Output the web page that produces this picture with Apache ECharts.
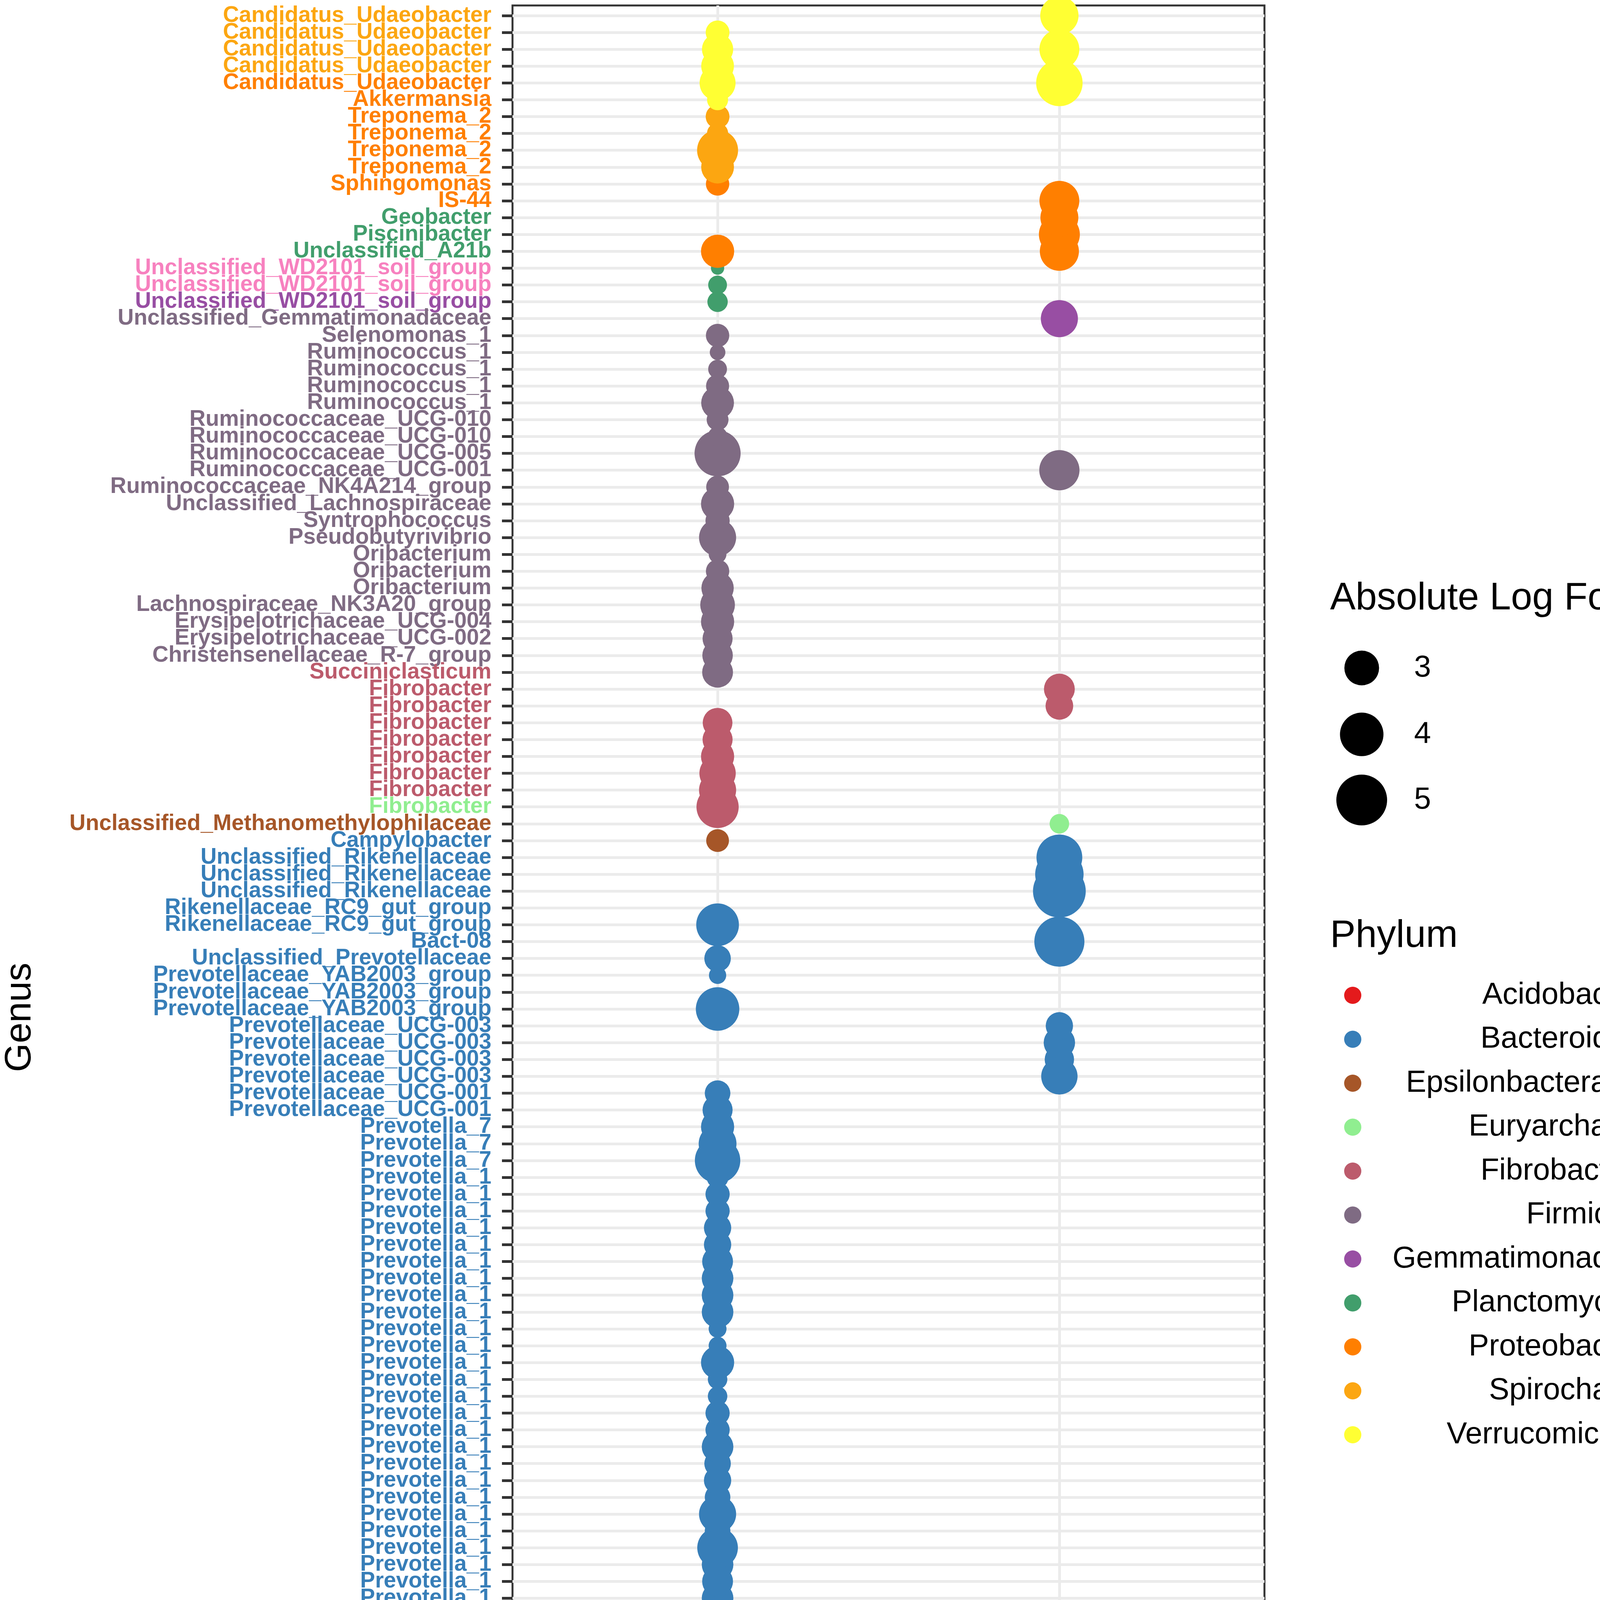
<!DOCTYPE html>
<html><head><meta charset="utf-8">
<script src="https://cdn.jsdelivr.net/npm/echarts@6/dist/echarts.min.js"></script>
<style>html,body{margin:0;padding:0;background:#fff}#c{width:4562px;height:5445px}</style>
</head><body><div id="c"></div>
<script>
// ---------------- DATA ----------------
const niches = ['Faecal', 'Rumen'];

const genus = [
 'Candidatus_Udaeobacter','Candidatus_Udaeobacter','Candidatus_Udaeobacter','Candidatus_Udaeobacter','Candidatus_Udaeobacter',
 'Akkermansia','Treponema_2','Treponema_2','Treponema_2','Treponema_2',
 'Sphingomonas','IS-44','Geobacter','Piscinibacter','Unclassified_A21b',
 'Unclassified_WD2101_soil_group','Unclassified_WD2101_soil_group','Unclassified_WD2101_soil_group','Unclassified_Gemmatimonadaceae','Selenomonas_1',
 'Ruminococcus_1','Ruminococcus_1','Ruminococcus_1','Ruminococcus_1','Ruminococcaceae_UCG-010',
 'Ruminococcaceae_UCG-010','Ruminococcaceae_UCG-005','Ruminococcaceae_UCG-001','Ruminococcaceae_NK4A214_group','Unclassified_Lachnospiraceae',
 'Syntrophococcus','Pseudobutyrivibrio','Oribacterium','Oribacterium','Oribacterium',
 'Lachnospiraceae_NK3A20_group','Erysipelotrichaceae_UCG-004','Erysipelotrichaceae_UCG-002','Christensenellaceae_R-7_group','Succiniclasticum',
 'Fibrobacter','Fibrobacter','Fibrobacter','Fibrobacter','Fibrobacter',
 'Fibrobacter','Fibrobacter','Fibrobacter','Unclassified_Methanomethylophilaceae','Campylobacter',
 'Unclassified_Rikenellaceae','Unclassified_Rikenellaceae','Unclassified_Rikenellaceae','Rikenellaceae_RC9_gut_group','Rikenellaceae_RC9_gut_group',
 'Bact-08','Unclassified_Prevotellaceae','Prevotellaceae_YAB2003_group','Prevotellaceae_YAB2003_group','Prevotellaceae_YAB2003_group',
 'Prevotellaceae_UCG-003','Prevotellaceae_UCG-003','Prevotellaceae_UCG-003','Prevotellaceae_UCG-003','Prevotellaceae_UCG-001',
 'Prevotellaceae_UCG-001','Prevotella_7','Prevotella_7','Prevotella_7','Prevotella_1',
 'Prevotella_1','Prevotella_1','Prevotella_1','Prevotella_1','Prevotella_1',
 'Prevotella_1','Prevotella_1','Prevotella_1','Prevotella_1','Prevotella_1',
 'Prevotella_1','Prevotella_1','Prevotella_1','Prevotella_1','Prevotella_1',
 'Prevotella_1','Prevotella_1','Prevotella_1','Prevotella_1','Prevotella_1',
 'Prevotella_1','Prevotella_1','Prevotella_1','Prevotella_1','Prevotella_1',
 'Prevotella_1','Prevotella_1','Prevotella_1','Prevotella_1','Prevotella_1',
 'Prevotella_1','Prevotella_1','Prevotella_1','Prevotella_1','Prevotella_1',
 'Prevotella_1','Prevotella_1','Prevotella_1','Prevotella_1','Prevotella_1',
 'Prevotella_1','Prevotella_1','Prevotella_1','Unclassified_p-2534-18B5_gut_group','Unclassified_p-2534-18B5_gut_group',
 'Unclassified_F082','Unclassified_F082','Unclassified_Bacteroidales_RF16_group','Unclassified_Bacteroidales_RF16_group','RB41'
];

// phylum of each row (colour of its points)
const rowPhylum = [
 'Verrucomicrobia','Verrucomicrobia','Verrucomicrobia','Verrucomicrobia','Verrucomicrobia',
 'Verrucomicrobia','Spirochaetes','Spirochaetes','Spirochaetes','Spirochaetes',
 'Proteobacteria','Proteobacteria','Proteobacteria','Proteobacteria','Proteobacteria',
 'Planctomycetes','Planctomycetes','Planctomycetes','Gemmatimonadetes','Firmicutes',
 'Firmicutes','Firmicutes','Firmicutes','Firmicutes','Firmicutes',
 'Firmicutes','Firmicutes','Firmicutes','Firmicutes','Firmicutes',
 'Firmicutes','Firmicutes','Firmicutes','Firmicutes','Firmicutes',
 'Firmicutes','Firmicutes','Firmicutes','Firmicutes','Firmicutes',
 'Fibrobacteres','Fibrobacteres','Fibrobacteres','Fibrobacteres','Fibrobacteres',
 'Fibrobacteres','Fibrobacteres','Fibrobacteres','Euryarchaeota','Epsilonbacteraeota',
 'Bacteroidetes','Bacteroidetes','Bacteroidetes','Bacteroidetes','Bacteroidetes',
 'Bacteroidetes','Bacteroidetes','Bacteroidetes','Bacteroidetes','Bacteroidetes',
 'Bacteroidetes','Bacteroidetes','Bacteroidetes','Bacteroidetes','Bacteroidetes',
 'Bacteroidetes','Bacteroidetes','Bacteroidetes','Bacteroidetes','Bacteroidetes',
 'Bacteroidetes','Bacteroidetes','Bacteroidetes','Bacteroidetes','Bacteroidetes',
 'Bacteroidetes','Bacteroidetes','Bacteroidetes','Bacteroidetes','Bacteroidetes',
 'Bacteroidetes','Bacteroidetes','Bacteroidetes','Bacteroidetes','Bacteroidetes',
 'Bacteroidetes','Bacteroidetes','Bacteroidetes','Bacteroidetes','Bacteroidetes',
 'Bacteroidetes','Bacteroidetes','Bacteroidetes','Bacteroidetes','Bacteroidetes',
 'Bacteroidetes','Bacteroidetes','Bacteroidetes','Bacteroidetes','Bacteroidetes',
 'Bacteroidetes','Bacteroidetes','Bacteroidetes','Bacteroidetes','Bacteroidetes',
 'Bacteroidetes','Bacteroidetes','Bacteroidetes','Bacteroidetes','Bacteroidetes',
 'Bacteroidetes','Bacteroidetes','Bacteroidetes','Bacteroidetes','Bacteroidetes',
 'Bacteroidetes','Bacteroidetes','Bacteroidetes','Bacteroidetes','Acidobacteria'
];

// colour group of each tick label (as printed in the figure)
const labelGroup = [
 'Spirochaetes','Spirochaetes','Spirochaetes','Spirochaetes','Proteobacteria',
 'Proteobacteria','Proteobacteria','Proteobacteria','Proteobacteria','Proteobacteria',
 'Proteobacteria','Proteobacteria','Planctomycetes','Planctomycetes','Planctomycetes',
 'Pink','Pink','Gemmatimonadetes','Firmicutes','Firmicutes',
 'Firmicutes','Firmicutes','Firmicutes','Firmicutes','Firmicutes',
 'Firmicutes','Firmicutes','Firmicutes','Firmicutes','Firmicutes',
 'Firmicutes','Firmicutes','Firmicutes','Firmicutes','Firmicutes',
 'Firmicutes','Firmicutes','Firmicutes','Firmicutes','Fibrobacteres',
 'Fibrobacteres','Fibrobacteres','Fibrobacteres','Fibrobacteres','Fibrobacteres',
 'Fibrobacteres','Fibrobacteres','Euryarchaeota','Epsilonbacteraeota','Bacteroidetes',
 'Bacteroidetes','Bacteroidetes','Bacteroidetes','Bacteroidetes','Bacteroidetes',
 'Bacteroidetes','Bacteroidetes','Bacteroidetes','Bacteroidetes','Bacteroidetes',
 'Bacteroidetes','Bacteroidetes','Bacteroidetes','Bacteroidetes','Bacteroidetes',
 'Bacteroidetes','Bacteroidetes','Bacteroidetes','Bacteroidetes','Bacteroidetes',
 'Bacteroidetes','Bacteroidetes','Bacteroidetes','Bacteroidetes','Bacteroidetes',
 'Bacteroidetes','Bacteroidetes','Bacteroidetes','Bacteroidetes','Bacteroidetes',
 'Bacteroidetes','Bacteroidetes','Bacteroidetes','Bacteroidetes','Bacteroidetes',
 'Bacteroidetes','Bacteroidetes','Bacteroidetes','Bacteroidetes','Bacteroidetes',
 'Bacteroidetes','Bacteroidetes','Bacteroidetes','Bacteroidetes','Bacteroidetes',
 'Bacteroidetes','Bacteroidetes','Bacteroidetes','Bacteroidetes','Bacteroidetes',
 'Bacteroidetes','Bacteroidetes','Bacteroidetes','Bacteroidetes','Bacteroidetes',
 'Bacteroidetes','Bacteroidetes','Bacteroidetes','Bacteroidetes','Bacteroidetes',
 'Bacteroidetes','Bacteroidetes','Bacteroidetes','Bacteroidetes','Bacteroidetes',
 'Bacteroidetes','Bacteroidetes','Bacteroidetes','Crimson','Acidobacteria'
];

// absolute log fold change per row (null = not significant in that niche)
const faecalLFC = [
 null,2.07,2.67,2.81,3.13,1.89,2.07,1.9,3.69,2.81,
 2.04,null,null,null,2.85,1.5,1.76,1.85,null,2.04,
 1.6,1.76,2.02,2.81,1.94,1.8,4.34,null,2.0,2.85,
 2.1,3.25,1.7,2.04,2.77,3.0,2.85,2.56,2.6,2.63,
 null,null,2.53,2.56,2.85,3.17,3.25,3.84,null,2.0,
 null,null,null,null,3.9,null,2.27,1.68,null,4.0,
 null,null,null,null,2.2,2.56,2.85,3.33,4.25,1.94,
 2.1,2.1,2.33,2.33,2.63,2.7,2.7,2.7,1.71,1.71,
 2.85,1.8,1.8,2.1,2.1,2.7,2.27,2.33,2.2,3.25,
 2.2,3.65,2.7,2.63,2.7,2.7,2.85,3.74,3.65,3.25,
 3.4,3.65,3.4,3.4,3.65,3.4,3.4,3.65,3.84,4.04,
 5.4,4.45,5.05,null,null,1.85,2.5,2.77,3.25,2.1
];
const rumenLFC = [
 3.38,null,3.56,null,4.39,null,null,null,null,null,
 null,3.56,3.34,3.69,3.47,null,null,null,3.25,null,
 null,null,null,null,null,null,null,3.6,null,null,
 null,null,null,null,null,null,null,null,null,null,
 2.63,2.36,null,null,null,null,null,null,1.8,null,
 4.3,4.66,5.3,null,null,4.9,null,null,null,null,
 2.33,2.68,2.5,3.17,null,null,null,null,null,null,
 null,null,null,null,null,null,null,null,null,null,
 null,null,null,null,null,null,null,null,null,null,
 null,null,null,null,null,null,null,null,null,null,
 null,null,null,null,null,null,null,null,null,null,
 null,null,null,3.1,2.3,null,null,null,null,null
];

const phyla = ['Acidobacteria','Bacteroidetes','Epsilonbacteraeota','Euryarchaeota','Fibrobacteres',
 'Firmicutes','Gemmatimonadetes','Planctomycetes','Proteobacteria','Spirochaetes','Verrucomicrobia'];
const sizeBreaks = [3, 4, 5];

// ---------------- STYLE ----------------
const palette = {
 Acidobacteria:'#E41A1C', Bacteroidetes:'#377EB8', Epsilonbacteraeota:'#A65628', Euryarchaeota:'#90EE90',
 Fibrobacteres:'#BC5B6C', Firmicutes:'#7F6B83', Gemmatimonadetes:'#984EA3', Planctomycetes:'#419E6C',
 Proteobacteria:'#FF7F00', Spirochaetes:'#FCA611', Verrucomicrobia:'#FFFF33', Pink:'#F781BF', Crimson:'#A93A53'
};
const FONT = "'Liberation Sans', Arial, Helvetica, sans-serif";
function sizeFor(v) { return Math.sqrt(Math.max(4500 * v - 5600, 100)); }

const Y_MIN = 0.4, Y_MAX = genus.length + 0.6;
const rowIdx = genus.map((g, i) => i + 1);
// label positions: every row, plus empty end sentinels so no real row label is dropped
const labelVals = [Y_MIN].concat(rowIdx, [Y_MAX]);

const series = phyla.map(p => {
  const data = [];
  for (let i = genus.length - 1; i >= 0; i--) {
    if (rowPhylum[i] !== p) continue;
    if (faecalLFC[i] != null) data.push([1, i + 1, faecalLFC[i], genus[i]]);
    if (rumenLFC[i] != null) data.push([2, i + 1, rumenLFC[i], genus[i]]);
  }
  return {
    name: p, type: 'scatter', data: data, symbol: 'circle',
    symbolSize: d => sizeFor(d[2]),
    itemStyle: { color: palette[p], opacity: 1 },
    emphasis: { disabled: true }, clip: true
  };
});

function rowOf(v) {
  const r = Number(v);
  return (Math.abs(r - Math.round(r)) < 1e-6) ? Math.round(r) : 0;
}

const chart = echarts.init(document.getElementById('c'), null, { renderer: 'canvas' });
const gridL = 1312, gridT = 14, gridR = 1325, gridB = 250;

const graphics = [];
graphics.push({ type: 'text', left: 3405, top: 1533 - 49, style: { text: 'Absolute Log Fold Change', fontSize: 98, fontFamily: FONT, fill: '#000' } });
graphics.push({ type: 'text', left: 3405, top: 2397 - 49, style: { text: 'Phylum', fontSize: 98, fontFamily: FONT, fill: '#000' } });
const sizeY = [1710, 1880, 2048];
sizeBreaks.forEach((v, k) => {
  graphics.push({ type: 'circle', shape: { cx: 3486, cy: sizeY[k], r: sizeFor(v) / 2 }, style: { fill: '#000' } });
  graphics.push({ type: 'text', x: 3620, y: sizeY[k], style: { text: String(v), fontSize: 78, fontFamily: FONT, fill: '#000', verticalAlign: 'middle', align: 'left' } });
});

chart.setOption({
  animation: false,
  backgroundColor: '#fff',
  grid: { left: gridL, top: gridT, right: gridR, bottom: gridB, show: true, borderColor: '#333333', borderWidth: 5, backgroundColor: '#fff', containLabel: false },
  xAxis: {
    type: 'value', min: 0.4, max: 2.6,
    axisLine: { show: false },
    axisTick: { show: true, customValues: [1, 2], length: 29, lineStyle: { color: '#333333', width: 7 } },
    axisLabel: { customValues: [1, 2], formatter: v => niches[Math.round(v) - 1] || '', fontSize: 76, color: '#4D4D4D', margin: 42, fontFamily: FONT },
    splitLine: { show: true, lineStyle: { color: '#EBEBEB', width: 7 } },
    name: 'Niche Type', nameLocation: 'middle', nameGap: 137,
    nameTextStyle: { fontSize: 97, color: '#000', fontFamily: FONT }
  },
  yAxis: {
    type: 'value', min: Y_MIN, max: Y_MAX, inverse: true,
    axisLine: { show: false },
    axisTick: { show: true, customValues: rowIdx, length: 27, lineStyle: { color: '#333333', width: 7 } },
    axisLabel: {
      customValues: labelVals, hideOverlap: false,
      formatter: v => { const r = rowOf(v); return r ? genus[r - 1] : ''; },
      color: (v) => { const r = rowOf(v); return r ? palette[labelGroup[r - 1]] : '#000'; },
      fontSize: 57, lineHeight: 40, fontWeight: 'bold', fontFamily: FONT, margin: 54
    },
    splitLine: { show: true, lineStyle: { color: '#EBEBEB', width: 7 } },
    name: 'Genus', nameLocation: 'middle', nameGap: 1213, nameRotate: 90,
    nameTextStyle: { fontSize: 95, color: '#000', fontFamily: FONT }
  },
  legend: {
    orient: 'vertical', left: 3436, top: 2504,
    itemWidth: 44, itemHeight: 44, itemGap: 34.5, icon: 'circle',
    selectedMode: false, data: phyla,
    formatter: name => '{t|' + name + '}',
    textStyle: { rich: { t: { width: 777, align: 'right', fontSize: 78, fontFamily: FONT, color: '#000' } } }
  },
  graphic: graphics,
  series: series
});
</script>
</body></html>
